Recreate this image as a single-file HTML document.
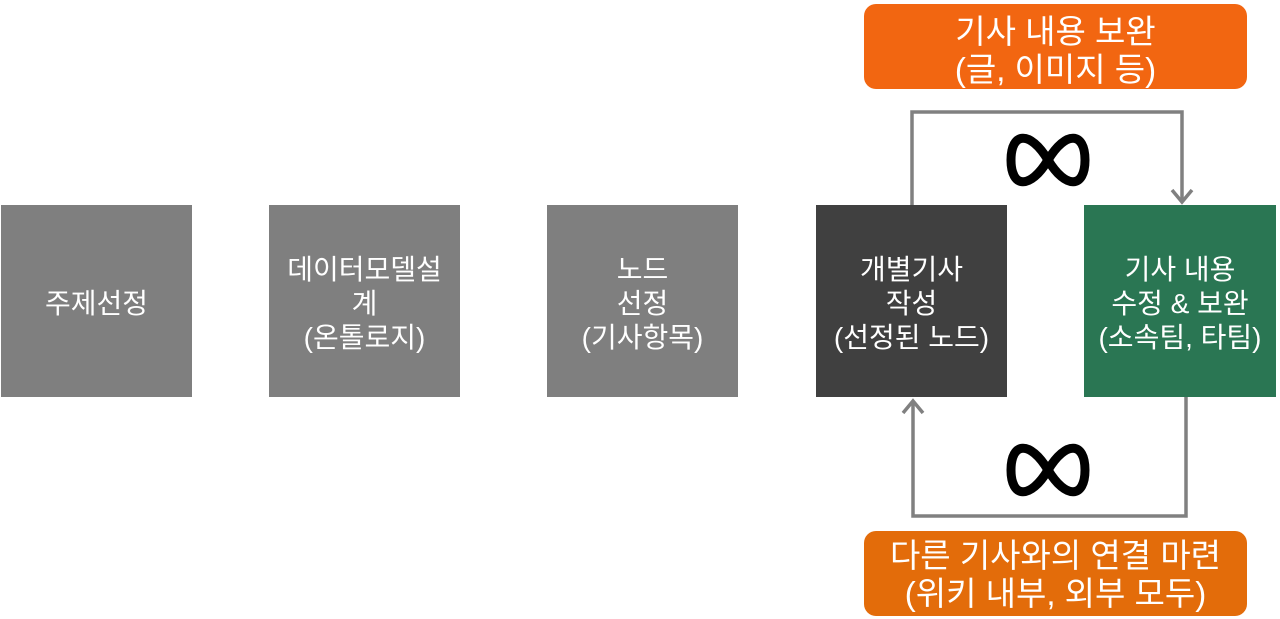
<!DOCTYPE html>
<html><head><meta charset="utf-8"><style>
body{margin:0;width:1280px;height:619px;background:#fff;position:relative;overflow:hidden;font-family:"Liberation Sans","Noto Sans CJK KR",sans-serif;}
.b{position:absolute;top:205px;width:191px;height:192px;box-sizing:border-box;padding-top:6px;color:#fff;font-size:28px;line-height:34px;display:flex;align-items:center;justify-content:center;text-align:center;}
.o{position:absolute;left:864px;width:383px;height:85px;box-sizing:border-box;border-radius:12px;color:#fff;font-size:33px;line-height:38px;display:flex;align-items:center;justify-content:center;text-align:center;}
svg{position:absolute;left:0;top:0}
</style></head><body>
<div class="b" style="left:1px;background:#7f7f7f">주제선정</div>
<div class="b" style="left:269px;background:#7f7f7f">데이터모델설<br>계<br>(온톨로지)</div>
<div class="b" style="left:547px;background:#7f7f7f">노드<br>선정<br>(기사항목)</div>
<div class="b" style="left:816px;background:#404040">개별기사<br>작성<br>(선정된 노드)</div>
<div class="b" style="left:1084px;width:192px;background:#2a7653">기사 내용<br>수정 &amp; 보완<br>(소속팀, 타팀)</div>
<div class="o" style="top:4px;padding-top:8px;background:#f26611">기사 내용 보완<br>(글, 이미지 등)</div>
<div class="o" style="top:531px;padding-top:2px;background:#e36c0a">다른 기사와의 연결 마련<br>(위키 내부, 외부 모두)</div>
<svg width="1280" height="619">
<g fill="none" stroke="#808080" stroke-width="3.5">
<path d="M912,205 V112 H1182 V202"/>
<path d="M1172,190 L1182,202 L1192,190"/>
<path d="M1186,397 V516 H913 V402"/>
<path d="M903,413 L913,401 L923,413"/>
</g>
<g fill="none" stroke="#000" stroke-width="9">
<path d="M1048,160 C1030,130 1011,132 1011,160 C1011,188 1030,190 1048,160 C1066,130 1085,132 1085,160 C1085,188 1066,190 1048,160Z"/>
<path d="M1048,470 C1030,440 1011,442 1011,470 C1011,498 1030,500 1048,470 C1066,440 1085,442 1085,470 C1085,498 1066,500 1048,470Z"/>
</g>
</svg>
</body></html>
